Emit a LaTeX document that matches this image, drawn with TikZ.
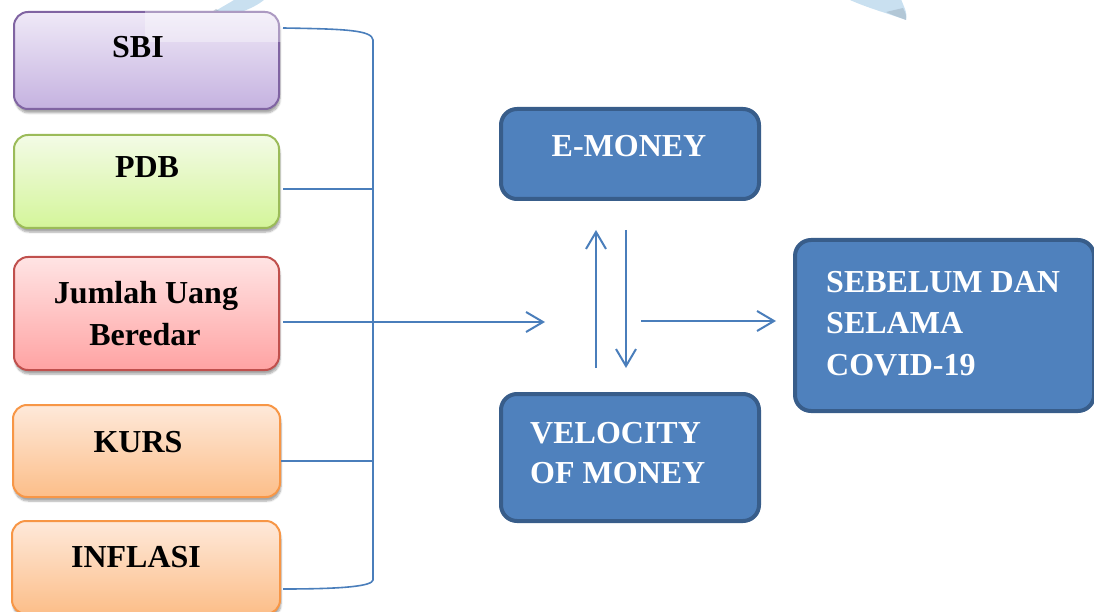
\documentclass[tikz,border=0pt]{standalone}
\usepackage{fontspec}
\setmainfont{Liberation Serif}
\usetikzlibrary{arrows.meta,shadows.blur}

\definecolor{sbiTop}{HTML}{EFE9F7}
\definecolor{sbiBot}{HTML}{C5B2E0}
\definecolor{sbiEdge}{HTML}{8064A2}
\definecolor{pdbTop}{HTML}{F3FBE6}
\definecolor{pdbBot}{HTML}{D4F59A}
\definecolor{pdbEdge}{HTML}{9BBB59}
\definecolor{jubTop}{HTML}{FFE4E4}
\definecolor{jubBot}{HTML}{FFA3A3}
\definecolor{jubEdge}{HTML}{C0504D}
\definecolor{orTop}{HTML}{FEE9DA}
\definecolor{orBot}{HTML}{FCBE89}
\definecolor{orEdge}{HTML}{F79646}
\definecolor{blueFill}{HTML}{4F81BD}
\definecolor{blueEdge}{HTML}{385D8A}
\definecolor{linkBlue}{HTML}{4A7EBB}
\definecolor{blobBlue}{HTML}{9CC6E4}
\definecolor{blobTip}{HTML}{98A8B8}

\tikzset{
  leftbox/.style={rectangle, rounded corners=14pt, line width=2pt,
    minimum width=265pt,
    blur shadow={shadow xshift=1pt, shadow yshift=-4pt,
      shadow blur steps=6, shadow opacity=35}},
  bluebox/.style={rectangle, rounded corners=16pt, draw=blueEdge,
    fill=blueFill, line width=4pt},
  lbl/.style={inner sep=0pt, anchor=base,
    font=\fontsize{32}{38}\selectfont\bfseries},
  wlbl/.style={lbl, text=white},
  link/.style={draw=linkBlue, line width=1.6pt},
  arr/.style={link, line width=2pt,
    -{Straight Barb[length=17pt,width=20pt]}},
}

\begin{document}
\begin{tikzpicture}[x=1pt,y=-1pt]
\useasboundingbox (0,0) rectangle (1094,612);
\clip (0,0) rectangle (1094,612);

% faint decorative blades along the top edge
\fill[blobBlue, opacity=0.55]
  (200,21) .. controls (212,12) and (232,2) .. (240,-4)
  -- (268,-4) .. controls (258,8) and (230,18) .. cycle;
\fill[blobTip, opacity=0.5]
  (200,21) .. controls (206,16) and (212,12) .. (216,9)
  -- (222,13) .. controls (214,17) and (206,20) .. cycle;
\fill[blobBlue, opacity=0.55]
  (906,20) .. controls (890,14) and (860,6) .. (842,-4)
  -- (900,-4) .. controls (903,6) and (908,12) .. cycle;
\fill[blobTip, opacity=0.45]
  (906,20) .. controls (898,17) and (892,15) .. (886,12)
  -- (903,8) .. controls (905,12) and (907,16) .. cycle;

% factor boxes on the left
\node[leftbox, draw=sbiEdge, top color=sbiTop, bottom color=sbiBot,
  minimum height=97pt] (sbi) at (146.5,60.5) {};
\node[leftbox, draw=pdbEdge, top color=pdbTop, bottom color=pdbBot,
  minimum height=93pt] (pdb) at (146.5,181.5) {};
\node[leftbox, draw=jubEdge, top color=jubTop, bottom color=jubBot,
  minimum height=113pt] (jub) at (146.5,313.5) {};
\node[leftbox, draw=orEdge, top color=orTop, bottom color=orBot,
  minimum height=92pt, minimum width=267pt] (kurs) at (146.5,451) {};
\node[leftbox, draw=orEdge, top color=orTop, bottom color=orBot,
  minimum height=93pt, minimum width=268pt] (infl) at (146,567.5) {};

% light sheen over the top of the SBI box
\fill[white, opacity=0.35] (145,11) rectangle (281,42);

\node[lbl] (tsbi) at (138,58) {SBI};
\node[lbl] (tpdb) at (147,178) {PDB};
\node[lbl] (tjub1) at (146,303) {Jumlah Uang};
\node[lbl] (tjub2) at (145,345) {Beredar};
\node[lbl] (tkurs) at (138,452) {KURS};
\node[lbl] (tinfl) at (136,567) {INFLASI};

% boxes on the right
\node[bluebox, minimum width=258pt, minimum height=90pt] (emo) at (630,154) {};
\node[bluebox, minimum width=258pt, minimum height=127pt] (vel) at (630,457.5) {};
\node[bluebox, minimum width=299pt, minimum height=171pt] (seb) at (944.5,325.5) {};

\node[wlbl] (temo) at (629,157) {E-MONEY};
\node[wlbl, anchor=base west] (tvel1) at (530,443) {VELOCITY};
\node[wlbl, anchor=base west] (tvel2) at (530,483) {OF MONEY};
\node[wlbl, anchor=base west] (tseb1) at (826,292) {SEBELUM DAN};
\node[wlbl, anchor=base west] (tseb2) at (826,333) {SELAMA};
\node[wlbl, anchor=base west] (tseb3) at (826,375) {COVID-19};

% bracket gathering the five factors
\coordinate (bt) at (373,40);
\coordinate (bb) at (373,580);
\coordinate (jtip) at (545,322);
\coordinate (rs) at (641,321);

\draw[link] ([xshift=3pt,yshift=-17pt]sbi.north east)
  .. controls (345,29) and (372,30) .. (bt) -- (bb)
  .. controls (372,586) and (345,589) .. ([xshift=2pt,yshift=-21.5pt]infl.east);
\draw[link] ([xshift=3pt,yshift=-7.5pt]pdb.east) -- ([yshift=-7.5pt]pdb.east -| bt);
\draw[link] ([xshift=0pt,yshift=-10pt]kurs.east) -- ([yshift=-10pt]kurs.east -| bt);
\draw[arr] ([xshift=3pt,yshift=-8.5pt]jub.east) -- (jtip);

% arrows between the blue boxes
\draw[arr] ([xshift=-34pt,yshift=24pt]vel.north) -- ([xshift=-34pt,yshift=-29pt]emo.south);
\draw[arr] ([xshift=-4pt,yshift=-29pt]emo.south) -- ([xshift=-4pt,yshift=24pt]vel.north);
\draw[arr] (rs) -- ([xshift=-17pt,yshift=4.5pt]seb.west);
\end{tikzpicture}
\end{document}
